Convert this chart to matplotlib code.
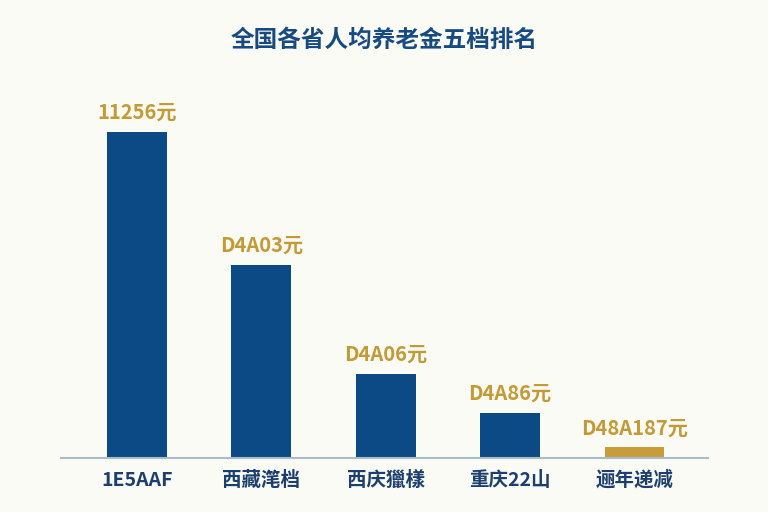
import matplotlib
matplotlib.use("Agg")
import matplotlib.pyplot as plt

plt.rcParams['font.family'] = ['Noto Sans CJK SC', 'DejaVu Sans']

title = "全国各省人均养老金五档排名"
categories = ["1E5AAF", "西藏滗档", "西庆獵樣", "重庆22山", "逦年递减"]
values = [11256, 6660, 2900, 1550, 370]
value_labels = ["11256元", "D4A03元", "D4A06元", "D4A86元", "D48A187元"]
bar_colors = ["#0c4a86", "#0c4a86", "#0c4a86", "#0c4a86", "#c89c38"]

bg = "#fbfbf6"
fig = plt.figure(figsize=(7.68, 5.12), dpi=100, facecolor=bg)
ax = fig.add_axes([61/768, 54/512, (708-61)/768, (458-80)/512])
ax.set_facecolor(bg)

x = list(range(len(categories)))
ax.bar(x, values, width=0.48, color=bar_colors, zorder=2)
ax.set_xlim(-0.61, 4.59)
ax.set_ylim(0, 13052)

for xi, v, lab in zip(x, values, value_labels):
    ax.annotate(lab, (xi, v), xytext=(0, 6.5), textcoords="offset points",
                ha="center", va="bottom", fontsize=14.5, fontweight="bold",
                color="#c49a34")

ax.set_xticks(x)
ax.set_xticklabels(categories, fontsize=14, fontweight="bold", color="#1c3f6e")
ax.tick_params(axis="x", length=0, pad=9)
ax.set_yticks([])
for s in ["top", "right", "left"]:
    ax.spines[s].set_visible(False)
ax.spines["bottom"].set_color("#a9bccb")
ax.spines["bottom"].set_linewidth(1.5)

fig.text(0.5, 1 - 40/512, title, ha="center", va="center", fontsize=17,
         fontweight="bold", color="#174a80")

fig.savefig("out.png", dpi=100, facecolor=bg)
